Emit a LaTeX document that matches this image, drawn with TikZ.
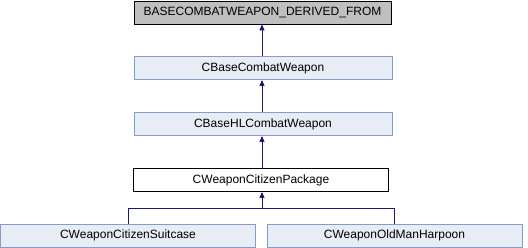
\documentclass[tikz,border=0pt]{standalone}
\usepackage{fontspec}
\setmainfont{Liberation Sans}
\usetikzlibrary{arrows.meta}
\definecolor{clsfill}{RGB}{232,236,245}
\definecolor{clsdraw}{RGB}{132,155,204}
\definecolor{basefill}{RGB}{191,191,191}
\definecolor{edgecol}{RGB}{25,25,112}
\tikzset{
  cls/.style={draw=clsdraw, fill=clsfill, line width=0.9pt, inner sep=0pt,
    minimum height=23pt, font=\fontsize{12}{14}\selectfont},
  basecls/.style={cls, draw=black, fill=basefill},
  curcls/.style={cls, draw=black, fill=white},
  inherit/.style={draw=edgecol, line width=0.9pt, -{Triangle[width=5pt,length=6pt]}},
  plain/.style={draw=edgecol, line width=0.9pt}
}
\begin{document}
\begin{tikzpicture}[x=1pt,y=-1pt]
  \useasboundingbox (0,0) rectangle (528,248);
  \node[basecls, minimum width=257pt] (base) at (262.5,12.5) {BASECOMBATWEAPON\_DERIVED\_FROM};
  \node[cls, minimum width=258pt] (cbw) at (263,68) {CBaseCombatWeapon};
  \node[cls, minimum width=258pt] (hlw) at (263,124) {CBaseHLCombatWeapon};
  \node[curcls, minimum width=255pt] (pkg) at (261,180) {CWeaponCitizenPackage};
  \node[cls, minimum width=255pt] (suit) at (128,235.5) {CWeaponCitizenSuitcase};
  \node[cls, minimum width=255pt] (harp) at (394.5,235.5) {CWeaponOldManHarpoon};
  \coordinate (join) at (262,208);
  \draw[inherit] (cbw.north -| join) -- (base.south -| join);
  \draw[inherit] (hlw.north -| join) -- (cbw.south -| join);
  \draw[inherit] (pkg.north -| join) -- (hlw.south -| join);
  \draw[inherit] (suit.north) |- (join) -- (pkg.south -| join);
  \draw[plain] (harp.north) |- (join);
\end{tikzpicture}
\end{document}
